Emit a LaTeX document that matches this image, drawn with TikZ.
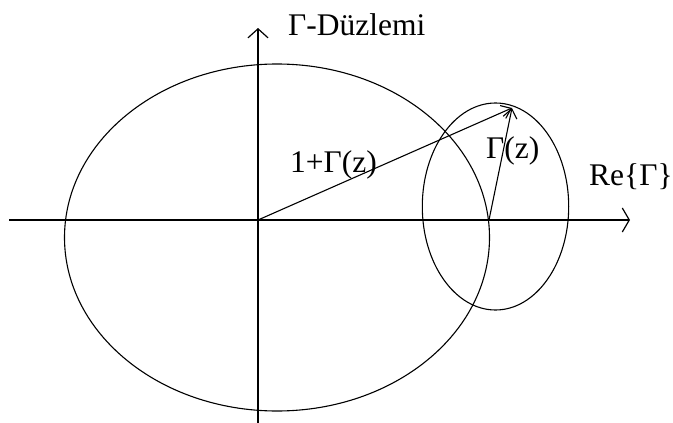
\documentclass[tikz,border=0pt]{standalone}
\usepackage{fontspec}
\setmainfont{Liberation Serif}
\usetikzlibrary{arrows.meta}
\begin{document}
\begin{tikzpicture}[x=1pt,y=-1pt,
  curve/.style={line width=1.1pt},
  axis/.style={line width=1.2pt},
  lbl/.style={font=\fontsize{31.5}{36}\selectfont, inner sep=0pt, anchor=base west},
  vec/.style={line width=1.1pt, -{Straight Barb[length=9pt,width=14pt,line width=1.1pt]}}]
  \useasboundingbox (0,0) rectangle (673,423);
  % coordinates
  \coordinate (O) at (258,220);
  \coordinate (xL) at (9,220);
  \coordinate (xR) at (630,220);
  \coordinate (yB) at (258,423);
  \coordinate (yT) at (258,28);
  \coordinate (T) at (512,108);
  \coordinate (P) at (489,220);
  \coordinate (C1) at (277,237.5);
  \coordinate (C2) at (495.5,206.5);
  % axes
  \draw[axis, -{Straight Barb[length=7pt,width=24pt,line width=1.2pt]}] (xL) -- (xR);
  \draw[axis, -{Straight Barb[length=9pt,width=20pt,line width=1.2pt]}] (yB) -- (yT);
  % ellipses
  \draw[curve] (C1) ellipse [x radius=212.5, y radius=173.5];
  \draw[curve] (C2) ellipse [x radius=73.2, y radius=103.5];
  % vectors
  \draw[vec] (O) -- (T);
  \draw[vec] (P) -- (T);
  % labels
  \node[lbl] (title) at (288,35) {Γ-Düzlemi};
  \node[lbl] (l1) at (290,172) {1+Γ(z)};
  \node[lbl] (l2) at (486,158) {Γ(z)};
  \node[lbl] (l3) at (589,185) {Re\{Γ\}};
\end{tikzpicture}
\end{document}
